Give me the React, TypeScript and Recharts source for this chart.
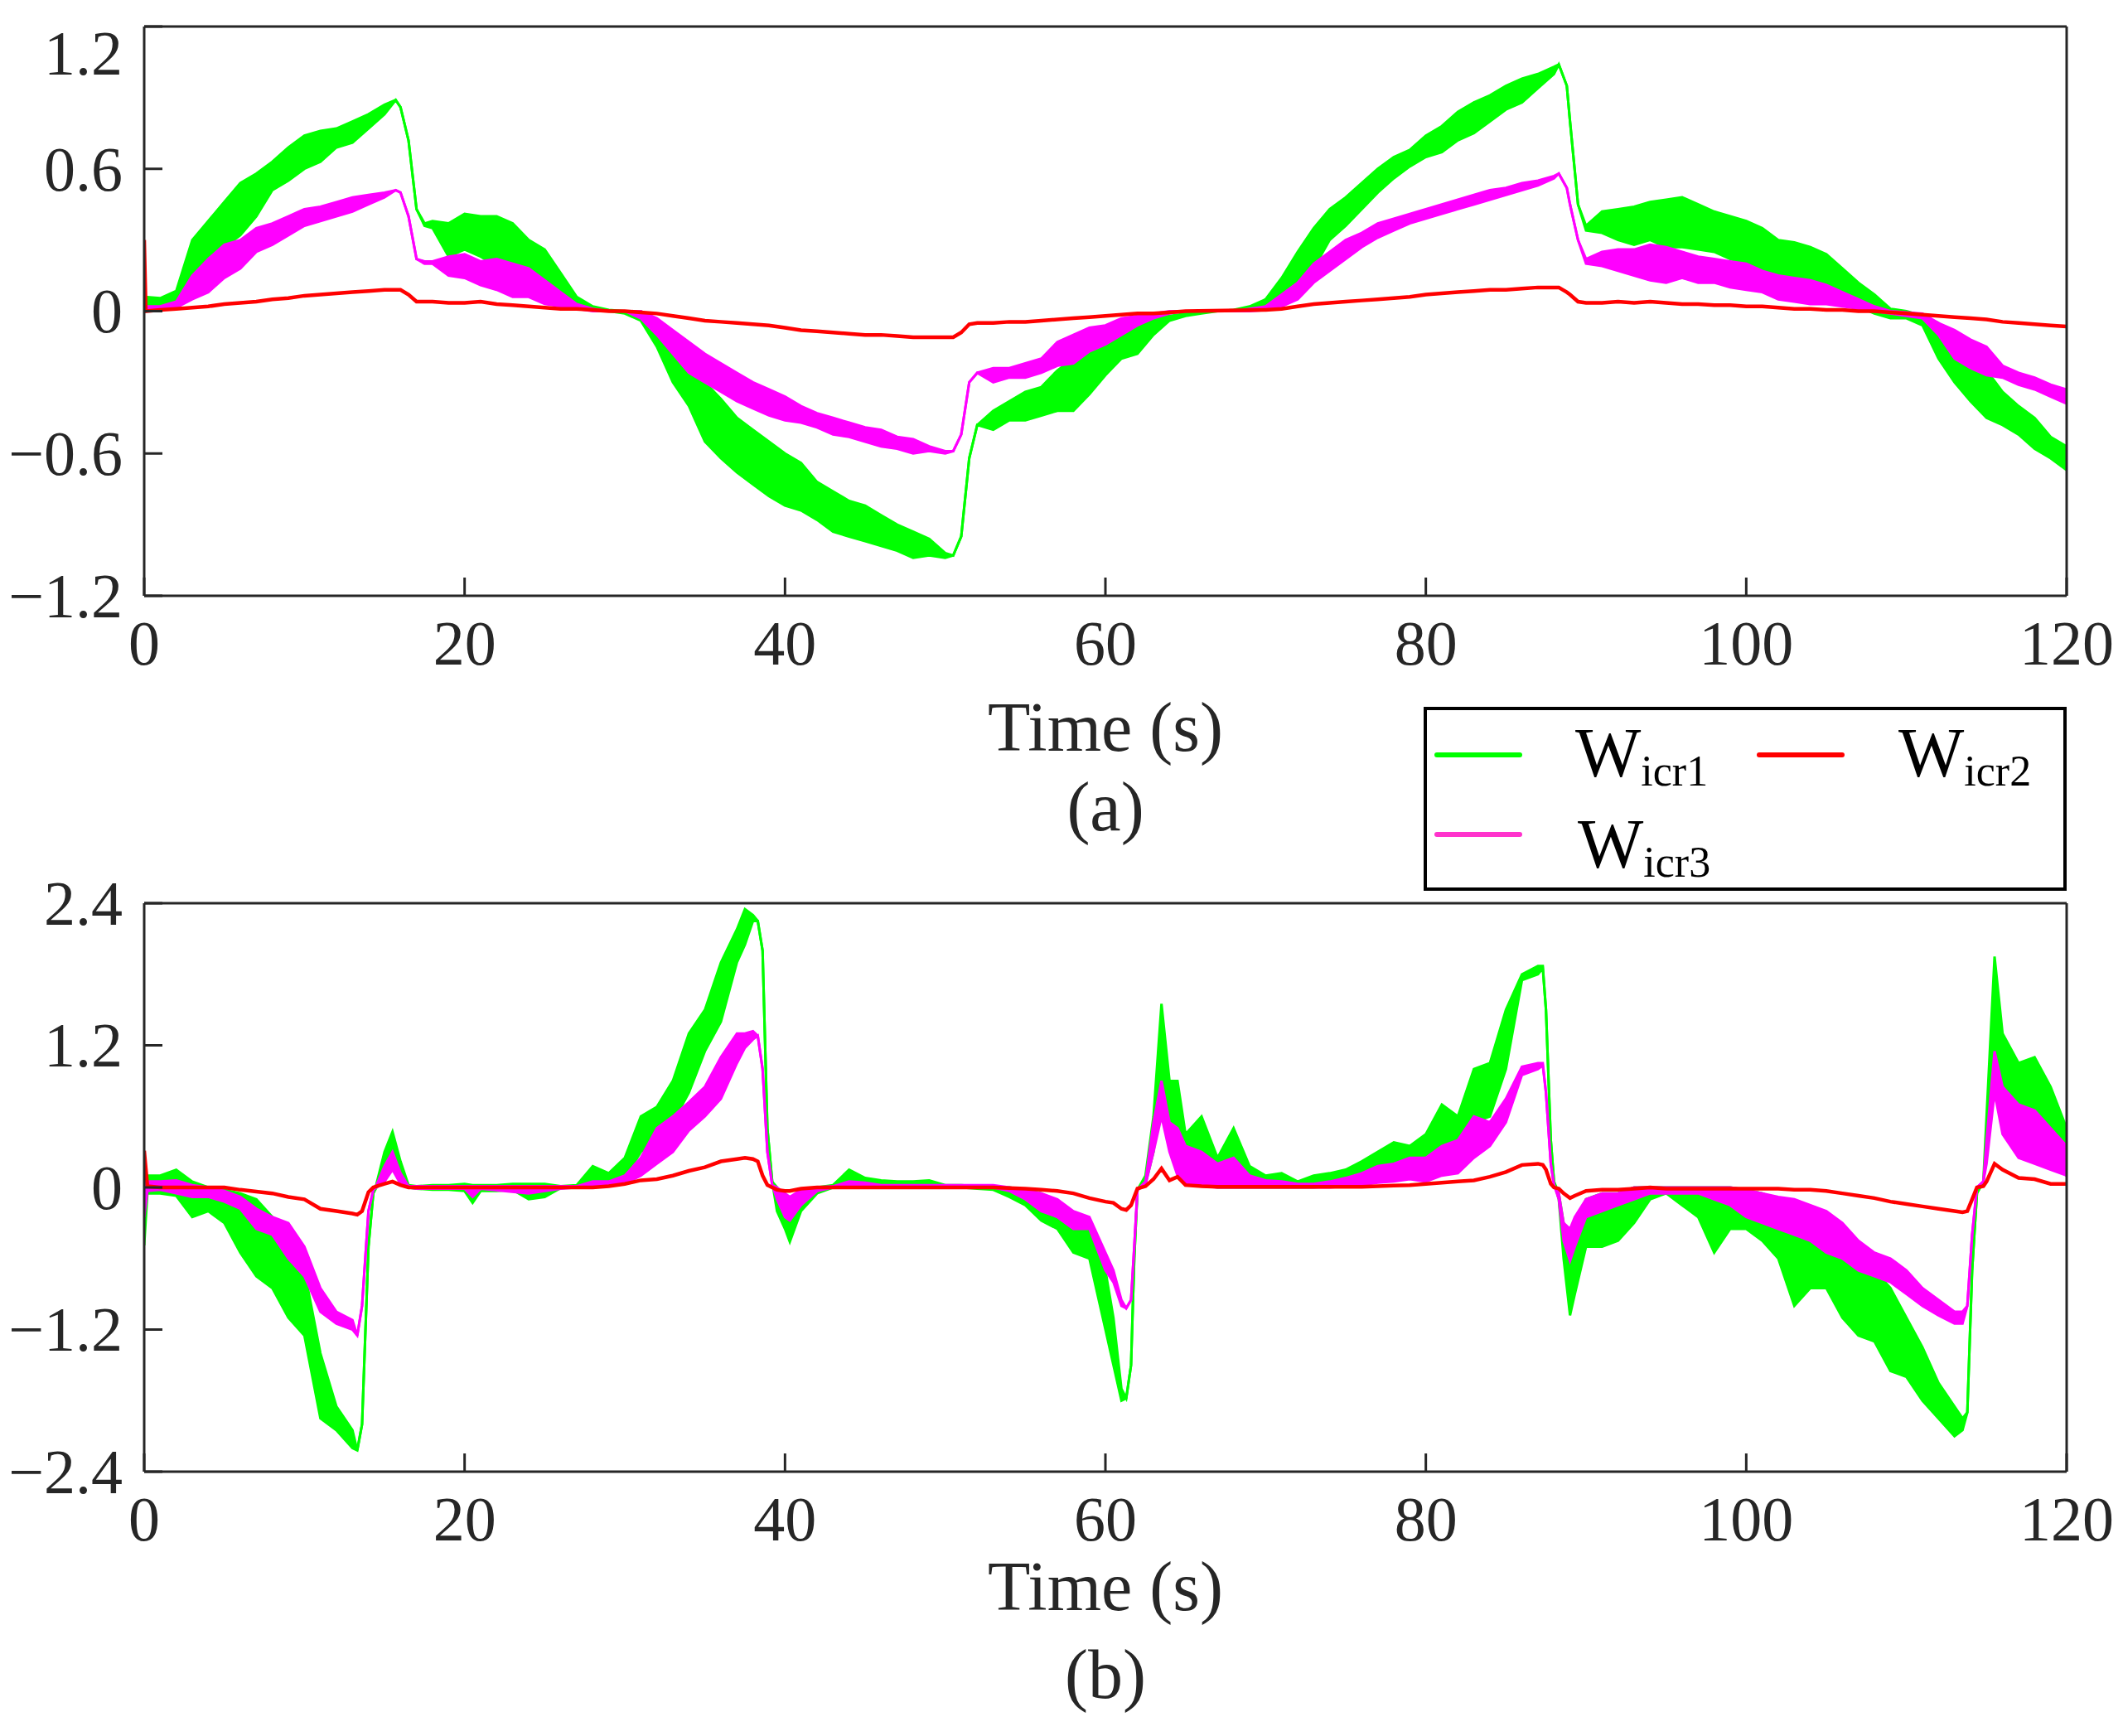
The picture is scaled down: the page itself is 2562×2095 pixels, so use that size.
import React from 'react';
import { Area, ComposedChart, Legend, Line, XAxis, YAxis } from 'recharts';

type Band = [number, number, number]; // [time, lower, upper]
type Trace = [number, number]; // [time, value]

const timeTicks = [0, 20, 40, 60, 80, 100, 120];
const ticksA = [-1.2, -0.6, 0, 0.6, 1.2];
const ticksB = [-2.4, -1.2, 0, 1.2, 2.4];

// (a) envelope of the fast ripple
const greenA: Band[] = [
  [0, 0.01, 0.06], [1, 0.015, 0.055], [2, 0.04, 0.085], [3, 0.13, 0.3], [4, 0.21, 0.38],
  [5, 0.27, 0.46], [6, 0.32, 0.54], [7, 0.4, 0.58], [8, 0.51, 0.63], [9, 0.55, 0.69],
  [10, 0.6, 0.74], [11, 0.63, 0.76], [12, 0.69, 0.77], [13, 0.71, 0.8], [14, 0.77, 0.83],
  [15, 0.83, 0.87], [15.7, 0.89, 0.89], [16, 0.86, 0.86], [16.5, 0.72, 0.72], [17, 0.43, 0.43],
  [17.5, 0.36, 0.37], [18, 0.35, 0.38], [19, 0.23, 0.37], [20, 0.26, 0.41], [21, 0.23, 0.4],
  [22, 0.19, 0.4], [23, 0.15, 0.37], [24, 0.13, 0.3], [25, 0.07, 0.26], [26, 0.04, 0.16],
  [27, 0.015, 0.06], [28, 0.005, 0.02], [29, 0, 0.005], [30, -0.01, 0], [31, -0.04, 0],
  [32, -0.15, -0.05], [33, -0.3, -0.15], [34, -0.4, -0.22], [35, -0.55, -0.3], [36, -0.62, -0.37],
  [37, -0.68, -0.45], [38, -0.73, -0.5], [39, -0.78, -0.55], [40, -0.82, -0.6], [41, -0.84, -0.64],
  [42, -0.88, -0.72], [43, -0.93, -0.76], [44, -0.95, -0.8], [45, -0.97, -0.82], [46, -0.99, -0.86],
  [47, -1.01, -0.9], [48, -1.04, -0.93], [49, -1.03, -0.96], [50, -1.04, -1.02], [50.5, -1.03, -1.03],
  [51, -0.95, -0.95], [51.5, -0.62, -0.62], [52, -0.48, -0.48], [53, -0.5, -0.42], [54, -0.46, -0.38],
  [55, -0.46, -0.34], [56, -0.44, -0.32], [57, -0.42, -0.25], [58, -0.42, -0.2], [59, -0.35, -0.15],
  [60, -0.27, -0.11], [61, -0.2, -0.08], [62, -0.18, -0.05], [63, -0.1, -0.03], [64, -0.04, -0.02],
  [65, -0.02, -0.01], [66, -0.01, 0], [67, 0, 0], [68, 0, 0.005], [69, 0.005, 0.02],
  [70, 0.01, 0.05], [71, 0.02, 0.14], [72, 0.09, 0.25], [73, 0.18, 0.35], [74, 0.3, 0.43],
  [75, 0.36, 0.48], [76, 0.43, 0.54], [77, 0.5, 0.6], [78, 0.56, 0.65], [79, 0.61, 0.68],
  [80, 0.65, 0.74], [81, 0.67, 0.78], [82, 0.72, 0.84], [83, 0.75, 0.88], [84, 0.8, 0.91],
  [85, 0.85, 0.95], [86, 0.88, 0.98], [87, 0.94, 1.0], [88, 1.0, 1.03], [88.3, 1.04, 1.04],
  [88.8, 0.95, 0.95], [89, 0.8, 0.8], [89.5, 0.45, 0.45], [90, 0.34, 0.36], [91, 0.33, 0.42],
  [92, 0.3, 0.43], [93, 0.28, 0.44], [94, 0.3, 0.46], [95, 0.27, 0.47], [96, 0.27, 0.48],
  [97, 0.26, 0.45], [98, 0.25, 0.42], [99, 0.22, 0.4], [100, 0.2, 0.38], [101, 0.15, 0.35],
  [102, 0.12, 0.3], [103, 0.1, 0.29], [104, 0.08, 0.27], [105, 0.06, 0.24], [106, 0.04, 0.18],
  [107, 0.02, 0.12], [108, -0.01, 0.07], [109, -0.03, 0.01], [110, -0.03, 0], [111, -0.06, -0.02],
  [112, -0.2, -0.05], [113, -0.3, -0.12], [114, -0.38, -0.22], [115, -0.45, -0.25], [116, -0.48, -0.34],
  [117, -0.52, -0.4], [118, -0.58, -0.45], [119, -0.62, -0.53], [120, -0.67, -0.57],
];

const magentaA: Band[] = [
  [0, 0, 0.02], [1, 0.01, 0.02], [2, 0.015, 0.04], [3, 0.05, 0.15], [4, 0.08, 0.22],
  [5, 0.14, 0.28], [6, 0.18, 0.3], [7, 0.25, 0.35], [8, 0.28, 0.37], [9, 0.32, 0.4],
  [10, 0.36, 0.43], [11, 0.38, 0.44], [12, 0.4, 0.46], [13, 0.42, 0.48], [14, 0.45, 0.49],
  [15, 0.48, 0.5], [15.7, 0.51, 0.51], [16, 0.5, 0.5], [16.5, 0.4, 0.4], [17, 0.22, 0.22],
  [17.5, 0.2, 0.21], [18, 0.2, 0.21], [19, 0.15, 0.23], [20, 0.14, 0.24], [21, 0.11, 0.21],
  [22, 0.09, 0.22], [23, 0.06, 0.2], [24, 0.06, 0.18], [25, 0.03, 0.13], [26, 0.02, 0.08],
  [27, 0.01, 0.03], [28, 0, 0.01], [29, 0, 0], [30, 0, 0], [31, -0.03, 0],
  [32, -0.1, -0.03], [33, -0.18, -0.08], [34, -0.26, -0.13], [35, -0.3, -0.18], [36, -0.34, -0.22],
  [37, -0.38, -0.26], [38, -0.41, -0.3], [39, -0.44, -0.33], [40, -0.46, -0.36], [41, -0.47, -0.4],
  [42, -0.49, -0.43], [43, -0.52, -0.45], [44, -0.53, -0.47], [45, -0.55, -0.49], [46, -0.57, -0.5],
  [47, -0.58, -0.53], [48, -0.6, -0.54], [49, -0.59, -0.57], [50, -0.6, -0.59], [50.5, -0.59, -0.59],
  [51, -0.52, -0.52], [51.5, -0.3, -0.3], [52, -0.26, -0.26], [53, -0.3, -0.24], [54, -0.28, -0.24],
  [55, -0.28, -0.22], [56, -0.26, -0.2], [57, -0.23, -0.13], [58, -0.22, -0.1], [59, -0.17, -0.07],
  [60, -0.14, -0.06], [61, -0.1, -0.03], [62, -0.06, -0.02], [63, -0.03, -0.01], [64, -0.01, 0],
  [65, 0, 0], [68, 0, 0], [69, 0, 0.01], [70, 0.005, 0.02], [71, 0.02, 0.07],
  [72, 0.05, 0.12], [73, 0.12, 0.2], [74, 0.17, 0.25], [75, 0.22, 0.3], [76, 0.27, 0.33],
  [77, 0.31, 0.37], [78, 0.34, 0.39], [79, 0.37, 0.41], [80, 0.39, 0.43], [81, 0.41, 0.45],
  [82, 0.43, 0.47], [83, 0.45, 0.49], [84, 0.47, 0.51], [85, 0.49, 0.52], [86, 0.51, 0.54],
  [87, 0.53, 0.55], [88, 0.56, 0.57], [88.3, 0.58, 0.58], [88.8, 0.52, 0.52], [89, 0.45, 0.45],
  [89.5, 0.3, 0.3], [90, 0.2, 0.22], [91, 0.19, 0.25], [92, 0.17, 0.26], [93, 0.15, 0.26],
  [94, 0.13, 0.28], [95, 0.12, 0.27], [96, 0.14, 0.25], [97, 0.12, 0.23], [98, 0.12, 0.22],
  [99, 0.1, 0.21], [100, 0.09, 0.2], [101, 0.08, 0.17], [102, 0.05, 0.15], [103, 0.04, 0.14],
  [104, 0.03, 0.13], [105, 0.03, 0.11], [106, 0.02, 0.08], [107, 0.01, 0.05], [108, 0, 0.02],
  [109, -0.01, 0], [110, -0.02, -0.005], [111, -0.03, -0.01], [112, -0.1, -0.05], [113, -0.2, -0.08],
  [114, -0.24, -0.12], [115, -0.27, -0.15], [116, -0.28, -0.23], [117, -0.31, -0.26], [118, -0.33, -0.28],
  [119, -0.36, -0.31], [120, -0.39, -0.33],
];

const redA: Trace[] = [
  [0, 0.3], [0.1, 0], [1, 0.005], [2, 0.01], [3, 0.015], [4, 0.02], [5, 0.03], [6, 0.035],
  [7, 0.04], [8, 0.05], [9, 0.055], [10, 0.065], [11, 0.07], [12, 0.075], [13, 0.08], [14, 0.085],
  [15, 0.09], [16, 0.09], [16.5, 0.07], [17, 0.04], [18, 0.04], [19, 0.035], [20, 0.035], [21, 0.04],
  [22, 0.03], [23, 0.025], [24, 0.02], [25, 0.015], [26, 0.01], [27, 0.01], [28, 0.005], [29, 0],
  [30, 0], [31, -0.005], [32, -0.01], [33, -0.02], [34, -0.03], [35, -0.04], [36, -0.045], [37, -0.05],
  [38, -0.055], [39, -0.06], [40, -0.07], [41, -0.08], [42, -0.085], [43, -0.09], [44, -0.095], [45, -0.1],
  [46, -0.1], [47, -0.105], [48, -0.11], [49, -0.11], [50, -0.11], [50.5, -0.11], [51, -0.09], [51.5, -0.055],
  [52, -0.05], [53, -0.05], [54, -0.045], [55, -0.045], [56, -0.04], [57, -0.035], [58, -0.03], [59, -0.025],
  [60, -0.02], [61, -0.015], [62, -0.01], [63, -0.01], [64, -0.005], [65, 0], [70, 0.005], [71, 0.01],
  [72, 0.02], [73, 0.03], [74, 0.035], [75, 0.04], [76, 0.045], [77, 0.05], [78, 0.055], [79, 0.06],
  [80, 0.07], [81, 0.075], [82, 0.08], [83, 0.085], [84, 0.09], [85, 0.09], [86, 0.095], [87, 0.1],
  [88, 0.1], [88.3, 0.1], [88.8, 0.08], [89, 0.07], [89.5, 0.04], [90, 0.035], [91, 0.035], [92, 0.04],
  [93, 0.035], [94, 0.04], [95, 0.035], [96, 0.03], [97, 0.03], [98, 0.025], [99, 0.025], [100, 0.02],
  [101, 0.02], [102, 0.015], [103, 0.01], [104, 0.01], [105, 0.005], [106, 0.005], [107, 0], [108, 0],
  [109, -0.005], [110, -0.01], [111, -0.015], [112, -0.02], [113, -0.025], [114, -0.03], [115, -0.035], [116, -0.045],
  [117, -0.05], [118, -0.055], [119, -0.06], [120, -0.065],
];

// (b)
const greenB: Band[] = [
  [0, -0.49, 0.08], [0.2, -0.05, 0.1], [1, -0.05, 0.1], [2, -0.07, 0.15], [3, -0.25, 0.05],
  [4, -0.2, 0], [5, -0.3, -0.02], [6, -0.55, -0.05], [7, -0.75, -0.1], [8, -0.85, -0.25],
  [9, -1.1, -0.5], [10, -1.25, -0.7], [11, -1.95, -1.4], [12, -2.05, -1.85], [13, -2.2, -2.05],
  [13.3, -2.22, -2.22], [13.6, -2.0, -2.0], [14, -0.5, -0.5], [14.3, -0.05, -0.05], [14.5, 0, 0.03],
  [15, 0.05, 0.3], [15.5, 0.2, 0.47], [16, 0.05, 0.22], [16.5, 0, 0.02], [17, -0.01, 0.01],
  [18, -0.02, 0.02], [19, -0.02, 0.02], [20, -0.03, 0.03], [20.5, -0.13, 0.02], [21, -0.03, 0.02],
  [22, -0.03, 0.02], [23, -0.02, 0.03], [24, -0.1, 0.03], [25, -0.08, 0.03], [26, -0.005, 0.01],
  [27, 0, 0.02], [28, 0, 0.18], [29, 0.02, 0.12], [30, 0.08, 0.25], [31, 0.3, 0.6],
  [32, 0.4, 0.68], [33, 0.55, 0.9], [34, 0.8, 1.3], [35, 1.15, 1.5], [36, 1.4, 1.9],
  [37, 1.9, 2.18], [37.5, 2.05, 2.35], [38, 2.25, 2.3], [38.3, 2.25, 2.25], [38.6, 2.0, 2.0],
  [38.9, 0.5, 0.5], [39.2, 0.05, 0.05], [39.5, -0.2, 0], [40, -0.35, -0.1], [40.3, -0.46, -0.15],
  [41, -0.2, -0.05], [42, -0.05, 0], [43, 0, 0.02], [44, 0, 0.15], [45, 0, 0.08],
  [46, 0, 0.06], [47, 0, 0.05], [48, 0, 0.05], [49, 0, 0.06], [50, 0, 0.02],
  [51, 0, 0.02], [52, -0.01, 0.01], [53, -0.02, 0], [54, -0.08, 0], [55, -0.15, -0.02],
  [56, -0.28, -0.05], [57, -0.35, -0.12], [58, -0.55, -0.3], [59, -0.6, -0.35], [60, -1.2, -0.7],
  [60.5, -1.5, -1.1], [61, -1.8, -1.7], [61.3, -1.78, -1.78], [61.6, -1.5, -1.5], [61.8, -0.6, -0.6],
  [62, -0.02, -0.02], [62.5, 0.03, 0.1], [63, 0.3, 0.6], [63.5, 0.8, 1.55], [64, 0.4, 0.9],
  [64.5, 0.15, 0.9], [65, 0.05, 0.45], [66, 0.02, 0.6], [67, 0, 0.25], [68, 0, 0.5],
  [69, 0, 0.18], [70, 0, 0.1], [71, 0, 0.12], [72, 0, 0.05], [73, 0, 0.1],
  [74, 0.01, 0.12], [75, 0.03, 0.15], [76, 0.05, 0.22], [77, 0.1, 0.3], [78, 0.1, 0.38],
  [79, 0.12, 0.35], [80, 0.12, 0.45], [81, 0.2, 0.7], [82, 0.35, 0.6], [83, 0.55, 1.0],
  [84, 0.6, 1.05], [85, 1.0, 1.5], [86, 1.75, 1.8], [87, 1.8, 1.87], [87.3, 1.85, 1.87],
  [87.5, 1.5, 1.5], [87.8, 0.4, 0.4], [88, 0.05, 0.05], [88.3, -0.1, -0.05], [88.6, -0.6, -0.3],
  [89, -1.08, -0.5], [89.3, -0.9, -0.3], [90, -0.5, -0.1], [91, -0.5, -0.05], [92, -0.45, -0.05],
  [93, -0.3, 0], [94, -0.1, 0], [95, -0.05, 0], [96, -0.15, 0], [97, -0.25, 0],
  [98, -0.55, 0], [99, -0.35, 0], [100, -0.35, -0.02], [101, -0.45, -0.05], [102, -0.6, -0.1],
  [103, -1.0, -0.15], [104, -0.85, -0.2], [105, -0.85, -0.3], [106, -1.1, -0.45], [107, -1.25, -0.55],
  [108, -1.3, -0.7], [109, -1.55, -0.85], [110, -1.6, -1.1], [111, -1.8, -1.35], [112, -1.95, -1.65],
  [113, -2.1, -1.85], [113.5, -2.05, -1.95], [113.8, -1.9, -1.9], [114.1, -0.7, -0.7], [114.4, -0.05, -0.05],
  [114.8, 0.05, 0.05], [115, 0.25, 0.6], [115.5, 1.2, 1.95], [116, 0.7, 1.3], [117, 0.4, 1.05],
  [118, 0.3, 1.1], [119, 0.2, 0.85], [120, 0.1, 0.5],
];

const magentaB: Band[] = [
  [0, -0.25, 0.05], [0.2, -0.03, 0.05], [1, -0.02, 0.05], [2, -0.05, 0.06], [3, -0.08, 0.02],
  [4, -0.08, 0], [5, -0.12, -0.03], [6, -0.18, -0.08], [7, -0.35, -0.18], [8, -0.4, -0.25],
  [9, -0.6, -0.3], [10, -0.75, -0.5], [11, -1.05, -0.85], [12, -1.15, -1.05], [13, -1.2, -1.12],
  [13.3, -1.25, -1.25], [13.6, -1.0, -1.0], [14, -0.2, -0.2], [14.3, -0.02, -0.02], [14.5, 0, 0.02],
  [15, 0.05, 0.18], [15.5, 0.15, 0.3], [16, 0.03, 0.12], [16.5, 0, 0.01], [17, -0.01, 0.01],
  [20, -0.01, 0.01], [20.5, -0.08, 0.01], [21, -0.01, 0.01], [24, -0.05, 0.01], [25, -0.03, 0.01],
  [26, -0.01, 0.01], [27, 0, 0.01], [28, 0, 0.05], [29, 0.01, 0.05], [30, 0.03, 0.1],
  [31, 0.1, 0.25], [32, 0.2, 0.5], [33, 0.3, 0.6], [34, 0.48, 0.72], [35, 0.6, 0.85],
  [36, 0.75, 1.1], [37, 1.05, 1.3], [37.5, 1.18, 1.3], [38, 1.25, 1.32], [38.3, 1.28, 1.28],
  [38.6, 1.0, 1.0], [38.9, 0.3, 0.3], [39.2, 0.02, 0.02], [39.5, -0.1, 0], [40, -0.25, -0.05],
  [40.3, -0.28, -0.08], [41, -0.15, -0.02], [42, -0.03, 0], [43, 0, 0.01], [44, 0, 0.05],
  [45, 0, 0.04], [46, 0, 0.02], [53, 0, 0.02], [54, -0.03, 0], [55, -0.1, -0.02],
  [56, -0.2, -0.05], [57, -0.25, -0.1], [58, -0.35, -0.2], [59, -0.35, -0.25], [60, -0.7, -0.55],
  [60.5, -0.8, -0.7], [61, -1.0, -0.95], [61.3, -1.02, -1.02], [61.6, -0.95, -0.95], [61.8, -0.5, -0.5],
  [62, -0.02, -0.02], [62.5, 0.02, 0.05], [63, 0.3, 0.55], [63.5, 0.6, 0.9], [64, 0.3, 0.55],
  [64.5, 0.1, 0.5], [65, 0.03, 0.35], [66, 0.01, 0.3], [67, 0, 0.2], [68, 0, 0.25],
  [69, 0, 0.1], [70, 0, 0.06], [71, 0, 0.05], [72, 0, 0.03], [73, 0, 0.03],
  [74, 0, 0.05], [75, 0.01, 0.08], [76, 0.02, 0.12], [77, 0.04, 0.18], [78, 0.05, 0.2],
  [79, 0.07, 0.25], [80, 0.05, 0.25], [81, 0.1, 0.35], [82, 0.12, 0.4], [83, 0.25, 0.6],
  [84, 0.35, 0.55], [85, 0.55, 0.75], [86, 0.95, 1.02], [87, 1.0, 1.05], [87.3, 1.03, 1.05],
  [87.5, 0.8, 0.8], [87.8, 0.2, 0.2], [88, 0.02, 0.02], [88.3, -0.1, -0.05], [88.6, -0.45, -0.3],
  [89, -0.62, -0.35], [89.3, -0.5, -0.25], [90, -0.25, -0.1], [91, -0.2, -0.05], [92, -0.15, -0.05],
  [93, -0.1, 0], [94, -0.05, 0], [97, -0.05, 0], [98, -0.1, 0], [99, -0.15, 0],
  [100, -0.25, -0.02], [101, -0.3, -0.05], [102, -0.35, -0.08], [103, -0.4, -0.1], [104, -0.45, -0.15],
  [105, -0.55, -0.2], [106, -0.6, -0.3], [107, -0.7, -0.45], [108, -0.75, -0.55], [109, -0.8, -0.6],
  [110, -0.9, -0.7], [111, -1.0, -0.85], [112, -1.08, -0.95], [113, -1.15, -1.05], [113.5, -1.15, -1.05],
  [113.8, -1.0, -1.0], [114.1, -0.4, -0.4], [114.4, 0, 0], [114.8, 0.05, 0.05], [115, 0.2, 0.4],
  [115.5, 0.8, 1.15], [116, 0.45, 0.85], [117, 0.25, 0.7], [118, 0.2, 0.65], [119, 0.15, 0.5],
  [120, 0.1, 0.35],
];

const redB: Trace[] = [
  [0, 0.31], [0.2, 0.01], [1, 0], [5, 0], [6, -0.02], [7, -0.035], [8, -0.05], [9, -0.08],
  [10, -0.1], [11, -0.18], [12, -0.2], [13, -0.22], [13.3, -0.23], [13.6, -0.2], [14, -0.04], [14.3, 0],
  [14.5, 0.01], [15, 0.03], [15.5, 0.05], [16, 0.02], [16.5, 0], [28, 0], [29, 0.01], [30, 0.03],
  [31, 0.06], [32, 0.07], [33, 0.1], [34, 0.14], [35, 0.17], [36, 0.22], [37, 0.24], [37.5, 0.25],
  [38, 0.24], [38.3, 0.22], [38.6, 0.1], [38.9, 0.02], [39.2, 0], [39.5, -0.02], [40, -0.03], [40.3, -0.03],
  [41, -0.01], [42, 0], [53, 0], [54, -0.005], [55, -0.01], [56, -0.02], [57, -0.03], [58, -0.05],
  [59, -0.09], [60, -0.12], [60.5, -0.13], [61, -0.18], [61.3, -0.19], [61.6, -0.15], [61.8, -0.08], [62, -0.01],
  [62.5, 0.01], [63, 0.07], [63.5, 0.16], [64, 0.06], [64.5, 0.09], [65, 0.02], [66, 0.01], [67, 0.005],
  [76, 0.005], [77, 0.01], [78, 0.015], [79, 0.02], [80, 0.03], [81, 0.04], [82, 0.05], [83, 0.06],
  [84, 0.09], [85, 0.13], [86, 0.19], [87, 0.2], [87.3, 0.19], [87.5, 0.15], [87.8, 0.03], [88, 0],
  [88.3, -0.01], [88.6, -0.05], [89, -0.09], [89.3, -0.07], [90, -0.03], [91, -0.02], [92, -0.02], [93, -0.01],
  [94, 0], [95, -0.01], [102, -0.01], [103, -0.02], [104, -0.02], [105, -0.03], [106, -0.05], [107, -0.07],
  [108, -0.09], [109, -0.12], [110, -0.14], [111, -0.16], [112, -0.18], [113, -0.2], [113.5, -0.21], [113.8, -0.2],
  [114.1, -0.1], [114.4, 0], [114.8, 0.01], [115, 0.05], [115.5, 0.2], [116, 0.15], [117, 0.08], [118, 0.07],
  [119, 0.03], [120, 0.03],
];

const FONT = '"Liberation Serif", "Times New Roman", Times, serif';
const INK = '#262626';
const GREEN = '#00ff00';
const MAGENTA = '#ff00ff';
const RED = '#ff0000';

const legendItems: Record<string, { sub: string; color: string; lx: number; ly: number; tx: number; ty: number }> = {
  Wicr1: { sub: 'icr1', color: GREEN, lx: 16, ly: 58, tx: 183, ty: 84 },
  Wicr2: { sub: 'icr2', color: RED, lx: 405, ly: 58, tx: 573, ty: 84 },
  Wicr3: { sub: 'icr3', color: '#ff33cc', lx: 16, ly: 154, tx: 186, ty: 194 },
};

const toBand = (rows: Band[]) => rows.map(([t, lo, hi]) => ({ t, v: [lo, hi] }));
const toTrace = (rows: Trace[]) => rows.map(([t, v]) => ({ t, v }));
const fmt = (v: number) => (v < 0 ? '\u2212' : '') + String(Math.abs(v));

const XTick = (props: any) => {
  const { x, y, payload } = props;
  return (
    <text x={x} y={y} dy="0.68em" textAnchor="middle" fontFamily={FONT} fontSize={76} fill={INK}>
      {fmt(payload.value)}
    </text>
  );
};

const makeYTick = (max: number, shift: number) => (props: any) => {
  const { x, y, payload } = props;
  const dy = payload.value === max ? shift : 0;
  return (
    <text x={x} y={y + dy} dy="0.34em" textAnchor="end" fontFamily={FONT} fontSize={76} fill={INK}>
      {fmt(payload.value)}
    </text>
  );
};

const makeCaption = (tag: string, timeDy: number, tagDy: number) => (props: any) => {
  const vb = props.viewBox || { x: 174, y: 0, width: 2320, height: 0 };
  const cx = vb.x + vb.width / 2;
  return (
    <g>
      <text x={cx} y={vb.y + timeDy} textAnchor="middle" fontFamily={FONT} fontSize={84} fill={INK}>
        Time (s)
      </text>
      <text x={cx} y={vb.y + tagDy} textAnchor="middle" fontFamily={FONT} fontSize={84} fill={INK}>
        {tag}
      </text>
    </g>
  );
};

const renderLegend = (props: any) => {
  const payload: any[] = props.payload || [];
  const names = payload.map((p) => p.value).filter((n) => legendItems[n]);
  return (
    <svg width={776} height={222} style={{ display: 'block' }}>
      <rect x={2} y={2} width={772} height={218} fill="#fff" stroke="#000" strokeWidth={4} />
      {names.map((n) => {
        const it = legendItems[n];
        return (
          <g key={n}>
            <line x1={it.lx} y1={it.ly} x2={it.lx + 100} y2={it.ly} stroke={it.color} strokeWidth={6} strokeLinecap="round" />
            <text x={it.tx} y={it.ty} fontFamily={FONT} fontSize={84} fill="#000">
              W
              <tspan fontSize={52} dy={11}>
                {it.sub}
              </tspan>
            </text>
          </g>
        );
      })}
    </svg>
  );
};

interface PanelProps {
  top: number;
  height: number;
  margin: { top: number; right: number; bottom: number; left: number };
  yDomain: [number, number];
  yTicks: number[];
  topShift: number;
  green: Band[];
  magenta: Band[];
  red: Trace[];
  tag: string;
  timeDy: number;
  tagDy: number;
  withLegend?: boolean;
}

const axisStroke = { stroke: INK, strokeWidth: 3 };

const Panel: React.FC<PanelProps> = ({ top, height, margin, yDomain, yTicks, topShift, green, magenta, red, tag, timeDy, tagDy, withLegend }) => {
  return (
    <div style={{ position: 'absolute', left: 0, top, width: 2562, height }}>
      <ComposedChart width={2562} height={height} margin={margin}>
        <XAxis
          xAxisId="b"
          dataKey="t"
          type="number"
          domain={[0, 120]}
          allowDataOverflow
          ticks={timeTicks}
          interval={0}
          height={100}
          tickSize={-22}
          tickMargin={53}
          axisLine={axisStroke}
          tickLine={axisStroke}
          tick={<XTick />}
          label={makeCaption(tag, timeDy, tagDy)}
        />
        <XAxis
          xAxisId="t"
          dataKey="t"
          orientation="top"
          mirror
          type="number"
          domain={[0, 120]}
          allowDataOverflow
          ticks={timeTicks}
          interval={0}
          tickSize={22}
          axisLine={axisStroke}
          tickLine={axisStroke}
          tick={false}
        />
        <YAxis
          yAxisId="l"
          type="number"
          domain={yDomain}
          allowDataOverflow
          ticks={yTicks}
          interval={0}
          width={100}
          tickSize={-22}
          tickMargin={48}
          axisLine={axisStroke}
          tickLine={axisStroke}
          tick={makeYTick(yDomain[1], topShift)}
        />
        <YAxis
          yAxisId="r"
          orientation="right"
          mirror
          type="number"
          domain={yDomain}
          allowDataOverflow
          ticks={yTicks}
          interval={0}
          tickSize={22}
          axisLine={axisStroke}
          tickLine={axisStroke}
          tick={false}
        />
        <Area
          xAxisId="b"
          yAxisId="l"
          name="Wicr1"
          data={toBand(green)}
          dataKey="v"
          type="linear"
          stroke={GREEN}
          strokeWidth={3}
          fill={GREEN}
          fillOpacity={1}
          dot={false}
          activeDot={false}
          isAnimationActive={false}
        />
        <Area
          xAxisId="b"
          yAxisId="l"
          name="Wicr3"
          data={toBand(magenta)}
          dataKey="v"
          type="linear"
          stroke={MAGENTA}
          strokeWidth={3}
          fill={MAGENTA}
          fillOpacity={1}
          dot={false}
          activeDot={false}
          isAnimationActive={false}
        />
        <Line
          xAxisId="b"
          yAxisId="l"
          name="Wicr2"
          data={toTrace(red)}
          dataKey="v"
          type="linear"
          stroke={RED}
          strokeWidth={4.5}
          dot={false}
          activeDot={false}
          isAnimationActive={false}
        />
        {withLegend && (
          <Legend
            layout="vertical"
            align="center"
            verticalAlign="middle"
            content={renderLegend}
            wrapperStyle={{ left: 1718, top: 853, width: 776, height: 222 }}
          />
        )}
      </ComposedChart>
    </div>
  );
};

export default function App() {
  return (
    <div style={{ position: 'absolute', left: 0, top: 0, width: 2562, height: 2095, background: '#fff' }}>
      <Panel
        top={1030}
        height={1065}
        margin={{ top: 60, right: 68, bottom: 219, left: 74 }}
        yDomain={[-2.4, 2.4]}
        yTicks={ticksB}
        topShift={0}
        green={greenB}
        magenta={magentaB}
        red={redB}
        tag="(b)"
        timeDy={167}
        tagDy={273}
      />
      <Panel
        top={0}
        height={1080}
        margin={{ top: 32, right: 68, bottom: 261, left: 74 }}
        yDomain={[-1.2, 1.2]}
        yTicks={ticksA}
        topShift={32}
        green={greenA}
        magenta={magentaA}
        red={redA}
        tag="(a)"
        timeDy={187}
        tagDy={283}
        withLegend
      />
    </div>
  );
}
